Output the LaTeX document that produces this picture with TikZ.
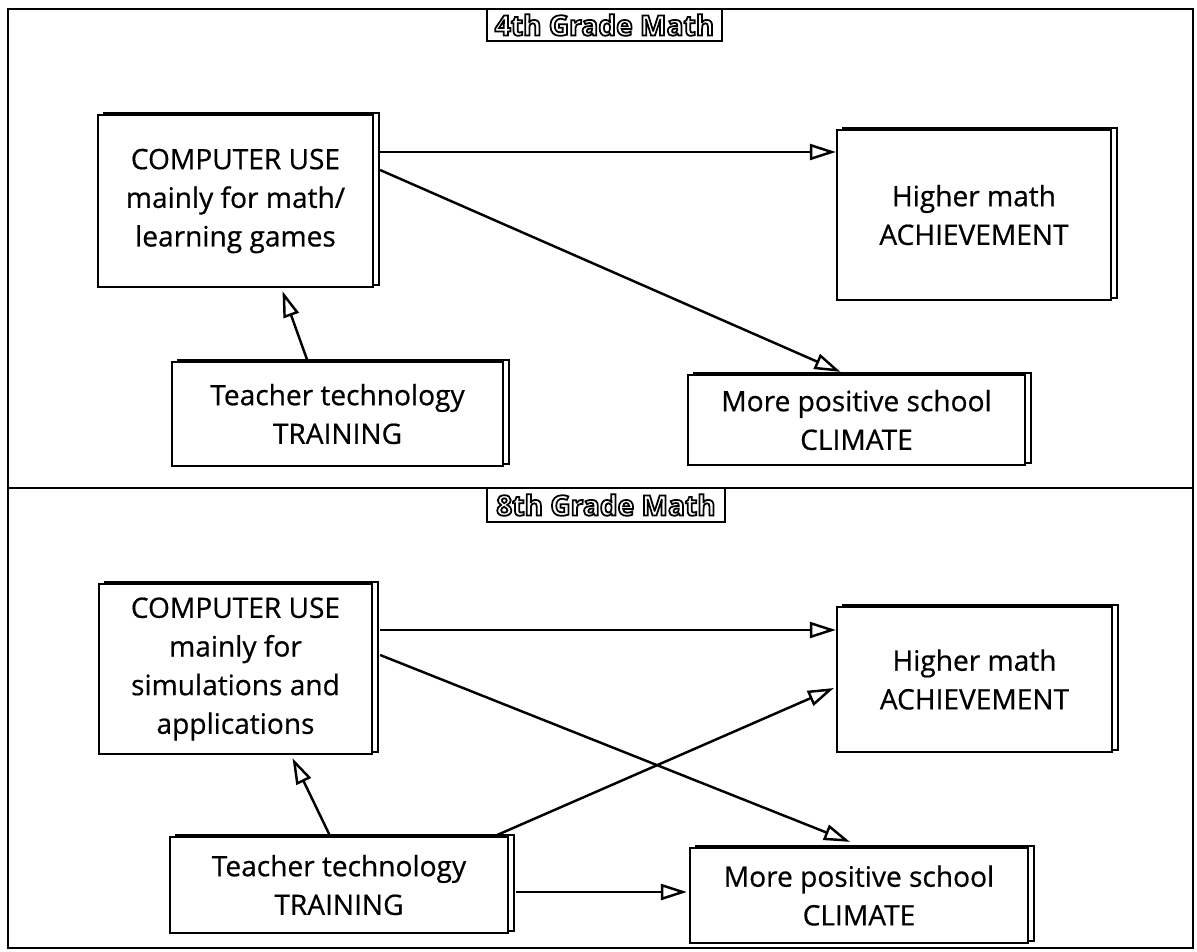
\documentclass[tikz,border=0pt]{standalone}
\usepackage{fontspec}
\setmainfont{Open Sans}
\newfontfamily\boxfont{Open Sans}[FakeBold=0.6]
\usetikzlibrary{arrows.meta,calc,shadows}

% hollow letters for the grade tags
\newcommand{\hollow}[1]{\special{pdf:literal direct 1 Tr}#1\special{pdf:literal direct 0 Tr}}

\tikzset{
  effect/.style={draw, fill=white, line width=1.3pt, align=center, inner sep=0pt,
    font=\boxfont\fontsize{16}{22}\selectfont,
    copy shadow={shadow xshift=0.12cm, shadow yshift=0.035cm, fill=white, draw=black}},
  link/.style={line width=1.4pt, -{Triangle[open, length=0.52cm, width=0.32cm]}},
  gradetag/.style={draw, fill=white, line width=1pt, inner sep=0pt,
    font=\bfseries\fontsize{16}{16}\selectfont}
}

\begin{document}
\begin{tikzpicture}[x=0.02cm, y=-0.02cm]
  \useasboundingbox (0,0) rectangle (1197,951);

  % frame and divider
  \draw[line width=1.2pt] (8,9) rectangle (1193,948);
  \draw[line width=1.2pt] (8,488) -- (1193,488);

  % 4th grade
  \node[gradetag, minimum width=4.7cm, minimum height=0.64cm] (tia) at (604.5,25) {\hollow{4th Grade Math}};

  \node[effect, minimum width=5.5cm, minimum height=3.44cm] (cua) at (235.5,201)
    {COMPUTER USE\\mainly for math/\\learning games};
  \node[effect, minimum width=5.48cm, minimum height=3.4cm] (acha) at (974,215)
    {Higher math\\ACHIEVEMENT};
  \node[effect, minimum width=6.62cm, minimum height=2.08cm] (traa) at (337.5,414)
    {Teacher technology\\TRAINING};
  \node[effect, minimum width=6.74cm, minimum height=1.8cm] (clia) at (856.5,420)
    {More positive school\\CLIMATE};

  \draw[link] ($(cua.east)+(6,-49)$) -- ($(acha.west)+(0,-63)$);
  \draw[link] ($(cua.east)+(6,-31)$) -- ($(clia.north)+(-16,-2)$);
  \draw[link] ($(traa.north)+(-30,0)$) -- ($(cua.south)+(47,3)$);

  % 8th grade
  \node[gradetag, minimum width=4.76cm, minimum height=0.68cm] (tib) at (606,505) {\hollow{8th Grade Math}};

  \node[effect, minimum width=5.46cm, minimum height=3.4cm] (cub) at (235.5,669)
    {COMPUTER USE\\mainly for\\simulations and\\applications};
  \node[effect, minimum width=5.5cm, minimum height=2.9cm] (achb) at (974.5,679.5)
    {Higher math\\ACHIEVEMENT};
  \node[effect, minimum width=6.76cm, minimum height=1.92cm] (trab) at (339,885)
    {Teacher technology\\TRAINING};
  \node[effect, minimum width=6.76cm, minimum height=1.9cm] (clib) at (859,895.5)
    {More positive school\\CLIMATE};

  \draw[link] ($(cub.east)+(7,-39)$) -- ($(achb.west)+(0,-49.5)$);
  \draw[link] ($(cub.east)+(7,-14)$) -- ($(clib.north)+(-9,-5)$);
  \draw[link] ($(trab.north)+(-9,0)$) -- ($(cub.south)+(57,3)$);
  \draw[link] ($(trab.north east)+(-14,0)$) -- ($(achb.west)+(-2,8.5)$);
  \draw[link] ($(trab.east)+(7,7)$) -- ($(clib.west)+(-2,-3.5)$);
\end{tikzpicture}
\end{document}
